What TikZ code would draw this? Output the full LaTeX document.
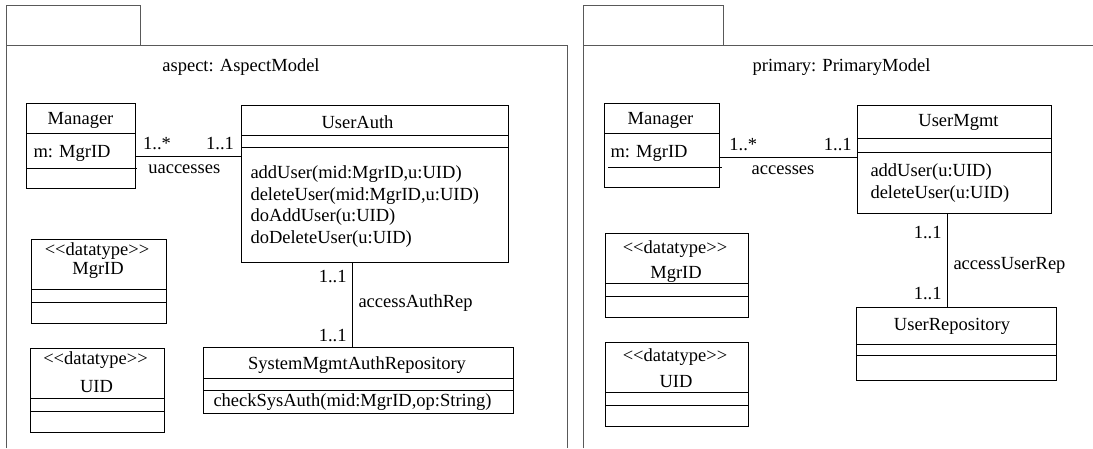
\documentclass[tikz,border=0pt]{standalone}
\usepackage{fontspec}
\setmainfont{Liberation Serif}
\usetikzlibrary{calc}

\begin{document}
\begin{tikzpicture}[x=1pt, y=-1pt, line width=1pt,
    font=\fontsize{18.5}{22}\selectfont]
    \tikzset{
        pkg/.style={draw=black!65, line width=0.9pt},
        cls/.style={draw, anchor=north west, inner sep=0pt},
        lbl/.style={inner sep=0pt},
        opline/.style={inner sep=0pt, anchor=base west}
    }
    \useasboundingbox (0,0) rectangle (1093,448);

    %% package aspect
    \draw[pkg] (6,5) rectangle (140,45);
    \draw[pkg] (6,448) -- (6,45) -- (567,45) -- (567,448);
    \node[lbl] (aspTitle) at (241,67.5) {aspect: AspectModel};

    % Manager
    \node[cls, minimum width=109pt, minimum height=85pt] (aMgr) at (26,103) {};
    \node[lbl] (aMgrName) at (80.5,120) {Manager};
    \draw (26,133) -- (135,133);
    \node[lbl, anchor=west] (aMgrAttr) at (33,153.5) {m: MgrID};
    \draw (27,168) -- (137,168);

    % UserAuth
    \node[cls, minimum width=267pt, minimum height=157pt] (aAuth) at (241,105) {};
    \node[lbl] (aAuthName) at (357.5,122.5) {UserAuth};
    \draw (241,135) -- (508,135);
    \draw (241,147) -- (508,147);
    \foreach \op/\yb [count=\i] in {{addUser(mid:MgrID,u:UID)}/178,
            {deleteUser(mid:MgrID,u:UID)}/200, {doAddUser(u:UID)}/221,
            {doDeleteUser(u:UID)}/243}
        \node[opline] (aAuthOp\i) at (250,\yb) {\op};

    \draw (aMgr.east |- 0,156) -- node[lbl, pos=.2, above=6pt] (aM1) {1..*}
        node[lbl, pos=.8, above=6pt] (aM2) {1..1}
        node[lbl, pos=.46, below=8pt] (aM3) {uaccesses} (aAuth.west |- 0,156);

    % SystemMgmtAuthRepository
    \node[cls, minimum width=310pt, minimum height=66pt] (aRep) at (203,347) {};
    \node[lbl] (aRepName) at (357,365) {SystemMgmtAuthRepository};
    \draw (203,378) -- (513,378);
    \draw (203,390) -- (513,390);
    \node[opline] (aRepOp) at (213,406) {checkSysAuth(mid:MgrID,op:String)};

    \draw (aAuth.south -| 352,0) -- node[lbl, pos=.16, left=5pt] (aR1) {1..1}
        node[lbl, pos=.475, right=6pt] (aR2) {accessAuthRep}
        node[lbl, pos=.86, left=5pt] (aR3) {1..1} (aRep.north -| 352,0);

    %% package primary
    \draw[pkg] (583,5) rectangle (723,45);
    \draw[pkg] (583,448) -- (583,45) -- (1093,45);
    \node[lbl] (priTitle) at (841.5,67.5) {primary: PrimaryModel};

    % Manager
    \node[cls, minimum width=115pt, minimum height=84pt] (pMgr) at (604,103) {};
    \node[lbl] (pMgrName) at (660.5,120) {Manager};
    \draw (604,133) -- (719,133);
    \node[lbl, anchor=west] (pMgrAttr) at (610,153.5) {m: MgrID};
    \draw (608,167.5) -- (722,167.5);

    % UserMgmt
    \node[cls, minimum width=194pt, minimum height=108pt] (pMgmt) at (857,105) {};
    \node[lbl] (pMgmtName) at (958.5,122.5) {UserMgmt};
    \draw (857,138) -- (1051,138);
    \draw (857,152) -- (1051,152);
    \node[opline] (pMgmtOp1) at (870,176) {addUser(u:UID)};
    \node[opline] (pMgmtOp2) at (870,198) {deleteUser(u:UID)};

    \draw (pMgr.east |- 0,157) -- node[lbl, pos=.17, above=6pt] (pM1) {1..*}
        node[lbl, pos=.86, above=6pt] (pM2) {1..1}
        node[lbl, pos=.46, below=8pt] (pM3) {accesses} (pMgmt.west |- 0,157);

    % UserRepository
    \node[cls, minimum width=200pt, minimum height=73pt] (pRep) at (856,307) {};
    \node[lbl] (pRepName) at (952,326.5) {UserRepository};
    \draw (856,344) -- (1056,344);
    \draw (856,355) -- (1056,355);

    \draw (pMgmt.south -| 947,0) -- node[lbl, pos=.2, left=5pt] (pR1) {1..1}
        node[lbl, pos=.55, right=6pt] (pR2) {accessUserRep}
        node[lbl, pos=.86, left=5pt] (pR3) {1..1} (pRep.north -| 947,0);

    %% datatypes of both packages
    \foreach \nm/\bx/\by/\bw/\so/\no/\tn in {aDtMgr/31/239/135/12/31/MgrID,
            aDtUid/30/348/134/12.5/39/UID, pDtMgr/605/233/143/16.5/41.5/MgrID,
            pDtUid/605/342/143/15.5/40/UID} {
        \node[cls, minimum width=\bw pt, minimum height=84pt] (\nm) at (\bx,\by) {};
        \node[lbl] (\nm-st) at ($(\nm.north)+(-2,\so)$) {{<}{<}datatype{>}{>}};
        \node[lbl] (\nm-nm) at ($(\nm.north)+(-1,\no)$) {\tn};
        \draw ($(\nm.north west)+(0,50.5)$) -- ($(\nm.north east)+(0,50.5)$);
        \draw ($(\nm.north west)+(0,63)$) -- ($(\nm.north east)+(0,63)$);
    }
\end{tikzpicture}
\end{document}
